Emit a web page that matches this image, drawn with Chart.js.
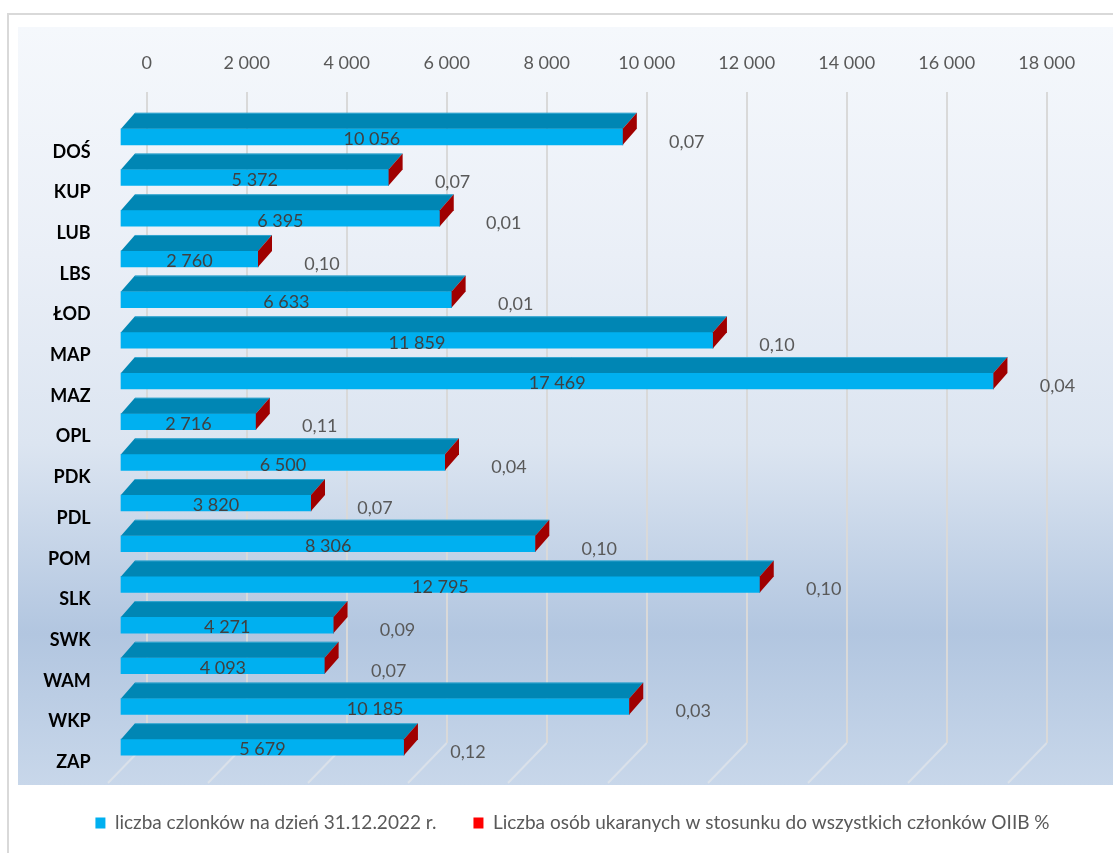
<!DOCTYPE html>
<html>
<head>
<meta charset="utf-8">
<script src="https://cdn.jsdelivr.net/npm/chart.js@4.4.1/dist/chart.umd.min.js"></script>
<style>
html,body{margin:0;padding:0;background:#fff;overflow:hidden}
#wrap{width:1113px;height:853px;position:relative}
canvas{display:block}
</style>
</head>
<body>
<div id="wrap"><canvas id="c" width="1113" height="853"></canvas></div>
<script>
// ---- data ----
const categories = ['DOŚ','KUP','LUB','LBS','ŁOD','MAP','MAZ','OPL','PDK','PDL','POM','SLK','SWK','WAM','WKP','ZAP'];
const members = [10056, 5372, 6395, 2760, 6633, 11859, 17469, 2716, 6500, 3820, 8306, 12795, 4271, 4093, 10185, 5679];
const punishedPct = [0.07, 0.07, 0.01, 0.10, 0.01, 0.10, 0.04, 0.11, 0.04, 0.07, 0.10, 0.10, 0.09, 0.07, 0.03, 0.12];
const seriesNames = ['liczba czlonków na dzień 31.12.2022 r.', 'Liczba osób ukaranych w stosunku do wszystkich członków OIIB %'];
const xMin = 0, xMax = 18000, xStep = 2000;

// ---- helpers ----
function fmtThousands(v) {
  return String(Math.round(v)).replace(/\B(?=(\d{3})+(?!\d))/g, ' ');
}
function fmtPct(v) {
  return v.toFixed(2).replace('.', ',');
}

const FONT = 'Lato';
const FRONT_DX = -26.7, FRONT_DY = 24.5;   // front plane offset from back wall
const DEPTH_X = 14, DEPTH_Y = 16;          // bar depth

const threeD = {
  id: 'threeD',
  beforeDraw(chart) {
    const {ctx, width, height} = chart;
    ctx.save();
    ctx.fillStyle = '#ffffff';
    ctx.fillRect(0, 0, width, height);
    // outer chart border
    ctx.strokeStyle = '#d9d9d9';
    ctx.lineWidth = 2;
    ctx.beginPath();
    ctx.moveTo(8, height);
    ctx.lineTo(8, 14);
    ctx.lineTo(width, 14);
    ctx.stroke();
    // plot area gradient
    const top = 27, bottom = 785;
    const g = ctx.createLinearGradient(0, top, 0, bottom);
    g.addColorStop(0, '#f5f8fc');
    g.addColorStop(0.3, '#eaeff7');
    g.addColorStop(0.55, '#dce5f1');
    g.addColorStop(0.8, '#b2c6e0');
    g.addColorStop(1, '#c8d7ea');
    ctx.fillStyle = g;
    ctx.fillRect(18, top, width - 18, bottom - top);
    ctx.restore();
  },
  beforeDatasetsDraw(chart) {
    const {ctx, chartArea} = chart;
    const xs = chart.scales.x;
    // floor continuation of grid lines
    ctx.save();
    ctx.strokeStyle = 'rgba(226,229,234,0.7)';
    ctx.lineWidth = 2;
    xs.ticks.forEach(t => {
      const px = xs.getPixelForValue(t.value);
      ctx.beginPath();
      ctx.moveTo(px, chartArea.bottom);
      ctx.lineTo(px - 38.7, chartArea.bottom + 40);
      ctx.stroke();
    });
    ctx.restore();
    // front plane
    ctx.save();
    ctx.translate(FRONT_DX, FRONT_DY);
  },
  afterDatasetsDraw(chart) {
    const {ctx} = chart;
    ctx.restore();
    const blue = chart.getDatasetMeta(0).data;
    const red = chart.getDatasetMeta(1).data;
    ctx.save();
    blue.forEach((b, i) => {
      const p = b.getProps(['x', 'y', 'base', 'height'], true);
      const x0 = p.base + FRONT_DX, x1 = p.x + FRONT_DX;
      const yc = p.y + FRONT_DY;
      const yT = yc - p.height / 2, yB = yc + p.height / 2;
      // top face
      ctx.fillStyle = '#0086b4';
      ctx.beginPath();
      ctx.moveTo(x0, yT);
      ctx.lineTo(x1, yT);
      ctx.lineTo(x1 + DEPTH_X, yT - DEPTH_Y);
      ctx.lineTo(x0 + DEPTH_X, yT - DEPTH_Y);
      ctx.closePath();
      ctx.fill();
      ctx.strokeStyle = 'rgba(90,190,230,0.6)';
      ctx.lineWidth = 1;
      ctx.beginPath();
      ctx.moveTo(x0 + DEPTH_X, yT - DEPTH_Y + 0.5);
      ctx.lineTo(x1 + DEPTH_X, yT - DEPTH_Y + 0.5);
      ctx.stroke();
      // red side face (second series, stacked at end)
      const r = red[i].getProps(['x'], true);
      const xr = r.x + FRONT_DX;
      ctx.fillStyle = '#a00000';
      ctx.beginPath();
      ctx.moveTo(xr, yT);
      ctx.lineTo(xr, yB);
      ctx.lineTo(xr + DEPTH_X, yB - DEPTH_Y);
      ctx.lineTo(xr + DEPTH_X, yT - DEPTH_Y);
      ctx.closePath();
      ctx.fill();
      // labels
      ctx.font = '18px ' + FONT;
      ctx.textAlign = 'center';
      ctx.textBaseline = 'middle';
      ctx.fillStyle = '#404040';
      ctx.fillText(fmtThousands(members[i]), (x0 + x1) / 2, yc + 2.5);
      ctx.fillStyle = '#595959';
      ctx.fillText(fmtPct(punishedPct[i]), xr + 64, yc + 5);
    });
    ctx.restore();
  }
};

function build() {
  new Chart(document.getElementById('c'), {
    type: 'bar',
    data: {
      labels: categories,
      datasets: [
        {
          label: seriesNames[0],
          data: members,
          backgroundColor: '#00b0f0',
          borderWidth: 0,
          barThickness: 16,
          xAxisID: 'x', yAxisID: 'y',
          clip: false
        },
        {
          label: seriesNames[1],
          data: punishedPct,
          backgroundColor: '#ff0000',
          borderWidth: 0,
          barThickness: 16,
          xAxisID: 'x', yAxisID: 'y',
          clip: false
        }
      ]
    },
    options: {
      indexAxis: 'y',
      responsive: false,
      animation: false,
      events: [],
      layout: {padding: {left: 32, right: 0, top: 0, bottom: 10.5}},
      plugins: {
        tooltip: {enabled: false},
        legend: {
          position: 'bottom',
          align: 'center',
          title: {display: true, text: ' ', padding: {top: 21.5, bottom: 0}, font: {size: 10}},
          labels: {
            boxWidth: 10,
            boxHeight: 11,
            padding: 37,
            color: '#595959',
            font: {family: FONT, size: 19}
          }
        }
      },
      scales: {
        x: {
          type: 'linear',
          position: 'top',
          stacked: true,
          min: xMin,
          max: xMax,
          ticks: {
            stepSize: xStep,
            padding: 18,
            color: '#595959',
            font: {family: FONT, size: 18},
            maxRotation: 0,
            autoSkip: false,
            callback: v => fmtThousands(v)
          },
          grid: {color: '#d9d9d9', lineWidth: 2, drawTicks: false},
          border: {display: false},
          afterFit: s => { s.height = 92; }
        },
        y: {
          type: 'category',
          position: 'left',
          stacked: true,
          grid: {display: false, drawTicks: false},
          border: {display: false},
          ticks: {
            padding: 56,
            labelOffset: 39.5,
            color: '#000000',
            font: {family: FONT, size: 18, weight: 'bold'}
          },
          afterFit: s => { s.width = 114.7; }
        },
        y2: {
          type: 'linear',
          position: 'right',
          display: true,
          grid: {display: false, drawTicks: false},
          border: {display: false},
          ticks: {display: false},
          afterFit: s => { s.width = 66.3; }
        }
      }
    },
    plugins: [threeD]
  });
}

if (document.fonts && document.fonts.load) {
  Promise.all([
    document.fonts.load('18px Lato'),
    document.fonts.load('bold 18px Lato')
  ]).then(build, build);
} else {
  build();
}
</script>
</body>
</html>
